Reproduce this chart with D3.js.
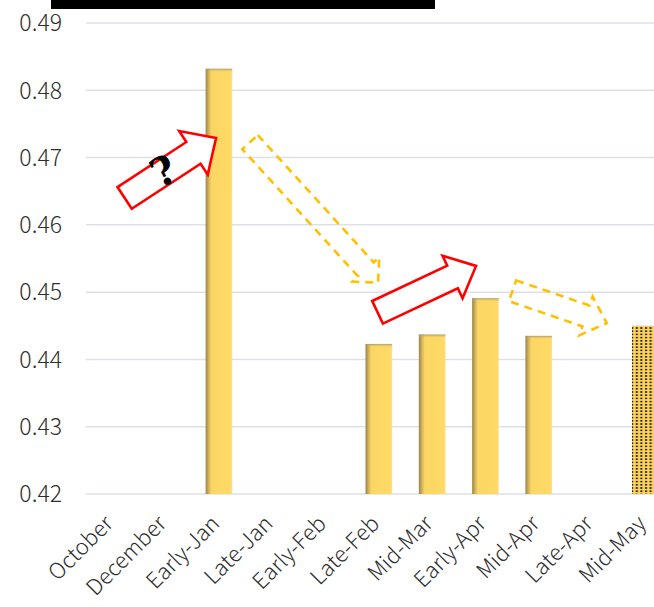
<!DOCTYPE html>
<html>
<head>
<meta charset="utf-8">
<script src="https://cdn.jsdelivr.net/npm/d3@7"></script>
<style>
  html, body { margin: 0; padding: 0; background: #ffffff; }
  svg { display: block; }
</style>
</head>
<body>
<svg id="chart" width="654" height="607"></svg>
<script>
// Period labels along the horizontal axis
const categories = ["October", "December", "Early-Jan", "Late-Jan", "Early-Feb", "Late-Feb",
                    "Mid-Mar", "Early-Apr", "Mid-Apr", "Late-Apr", "Mid-May"];
// Measured value per period (null = no bar)
const values = [null, null, 0.4832, null, null, 0.4423, 0.4437, 0.4491, 0.4435, null, 0.4450];
// Periods drawn with the dotted (provisional) fill
const dottedPeriods = ["Mid-May"];
// Axis ticks
const yTicks = [0.42, 0.43, 0.44, 0.45, 0.46, 0.47, 0.48, 0.49];

// Trend arrows: [category index, value] for tail centre and tip
const redArrows = [
  { from: [0.23, 0.4640], to: [1.946, 0.4729], shaft: 26, head: 52, headLen: 27 },
  { from: [4.976, 0.4470], to: [6.824, 0.4539], shaft: 25, head: 47, headLen: 26 }
];
const dashedArrows = [
  { from: [2.583, 0.4723], to: [4.985, 0.4514], shaft: 21, head: 36, headLen: 18 },
  { from: [7.508, 0.4502], to: [9.276, 0.4454], shaft: 22, head: 41, headLen: 22 }
];

const svg = d3.select("#chart");
const FONT = "'Noto Sans CJK JP', 'Noto Sans', sans-serif";
const TEXT = "#2f2f2f";

const x = d3.scaleBand().domain(categories).range([85.7, 672]).paddingInner(0.5).paddingOuter(0.25);
const y = d3.scaleLinear().domain([0.42, 0.49]).range([494, 23]);
// continuous index -> band centre, used for the annotation arrows
const xi = d3.scaleLinear().domain([0, categories.length - 1])
  .range([x(categories[0]) + x.bandwidth() / 2, x(categories[categories.length - 1]) + x.bandwidth() / 2]);

const defs = svg.append("defs");
const g1 = defs.append("linearGradient").attr("id", "barFill").attr("x1", 0).attr("x2", 1).attr("y1", 0).attr("y2", 0);
g1.append("stop").attr("offset", "0%").attr("stop-color", "#9a844a");
g1.append("stop").attr("offset", "12%").attr("stop-color", "#d4b458");
g1.append("stop").attr("offset", "22%").attr("stop-color", "#fcd664");
g1.append("stop").attr("offset", "92%").attr("stop-color", "#fed965");
g1.append("stop").attr("offset", "100%").attr("stop-color", "#fbe08a");
const g2 = defs.append("linearGradient").attr("id", "barTop").attr("x1", 0).attr("x2", 0).attr("y1", 0).attr("y2", 1);
g2.append("stop").attr("offset", "0%").attr("stop-color", "#9c9480").attr("stop-opacity", 0.85);
g2.append("stop").attr("offset", "100%").attr("stop-color", "#d8b95a").attr("stop-opacity", 0);
const pat = defs.append("pattern").attr("id", "dots").attr("patternUnits", "userSpaceOnUse")
  .attr("width", 4.6).attr("height", 3.2);
pat.append("rect").attr("width", 4.6).attr("height", 3.2).attr("fill", "#fdd25a");
pat.append("rect").attr("x", 1).attr("y", 0.8).attr("width", 2).attr("height", 1.6).attr("fill", "#1a1a1a");

// Redacted header block
svg.append("rect").attr("x", 51).attr("y", 0).attr("width", 384).attr("height", 9).attr("fill", "#000");

// Gridlines
svg.append("g").selectAll("line").data(yTicks).join("line")
  .attr("x1", 85.7).attr("x2", 672)
  .attr("y1", d => y(d)).attr("y2", d => y(d))
  .attr("stroke", "#dde1e7").attr("stroke-width", 1.5);

// Y tick labels
svg.append("g").selectAll("text").data(yTicks).join("text")
  .attr("x", 62).attr("y", d => y(d))
  .attr("dy", "0.36em")
  .attr("text-anchor", "end")
  .attr("font-family", FONT).attr("font-weight", 300).attr("font-size", 23).attr("fill", TEXT)
  .text(d => d.toFixed(2));

// Bars
const barData = categories.map((c, i) => ({ c, v: values[i] })).filter(d => d.v !== null);
const bars = svg.append("g");
bars.selectAll("rect.bar").data(barData).join("rect")
  .attr("class", "bar")
  .attr("x", d => x(d.c)).attr("width", x.bandwidth())
  .attr("y", d => y(d.v)).attr("height", d => y(0.42) - y(d.v))
  .attr("fill", d => dottedPeriods.includes(d.c) ? "url(#dots)" : "url(#barFill)");
bars.selectAll("rect.top").data(barData.filter(d => !dottedPeriods.includes(d.c))).join("rect")
  .attr("class", "top")
  .attr("x", d => x(d.c)).attr("width", x.bandwidth())
  .attr("y", d => y(d.v)).attr("height", 3)
  .attr("fill", "url(#barTop)");

// X tick labels, rotated
svg.append("g").selectAll("text").data(categories).join("text")
  .attr("transform", d => `translate(${x(d) + x.bandwidth() / 2 + 2},${525}) rotate(-45)`)
  .attr("text-anchor", "end")
  .attr("font-family", FONT).attr("font-weight", 300).attr("font-size", 22).attr("fill", TEXT)
  .text(d => d);

// Block arrow outline from tail centre to tip
function blockArrow(a) {
  const x0 = xi(a.from[0]), y0 = y(a.from[1]);
  const x1 = xi(a.to[0]), y1 = y(a.to[1]);
  const len = Math.hypot(x1 - x0, y1 - y0);
  const ang = Math.atan2(y1 - y0, x1 - x0) * 180 / Math.PI;
  const s = a.shaft / 2, h = a.head / 2, b = len - a.headLen;
  const pts = [[0, -s], [b, -s], [b, -h], [len, 0], [b, h], [b, s], [0, s]];
  return { d: "M" + pts.map(p => p.join(",")).join("L") + "Z", t: `translate(${x0},${y0}) rotate(${ang})` };
}

const ann = svg.append("g");
ann.selectAll("path.dash").data(dashedArrows).join("path")
  .attr("class", "dash")
  .attr("d", d => blockArrow(d).d).attr("transform", d => blockArrow(d).t)
  .attr("fill", "none").attr("stroke", "#ffc000").attr("stroke-width", 2.6)
  .attr("stroke-dasharray", "8,6").attr("stroke-linejoin", "miter");
ann.selectAll("path.red").data(redArrows).join("path")
  .attr("class", "red")
  .attr("d", d => blockArrow(d).d).attr("transform", d => blockArrow(d).t)
  .attr("fill", "#ffffff").attr("stroke", "#ff0000").attr("stroke-width", 2.6)
  .attr("stroke-linejoin", "miter");

// Question mark riding on the first arrow
ann.append("text")
  .attr("transform", `translate(${xi(0.96)},${y(0.4680)}) rotate(-28)`)
  .attr("text-anchor", "middle").attr("dy", "0.35em")
  .attr("font-family", "'DejaVu Serif', 'Liberation Serif', serif")
  .attr("font-weight", "bold").attr("font-size", 40).attr("fill", "#000")
  .text("?");
</script>
</body>
</html>
